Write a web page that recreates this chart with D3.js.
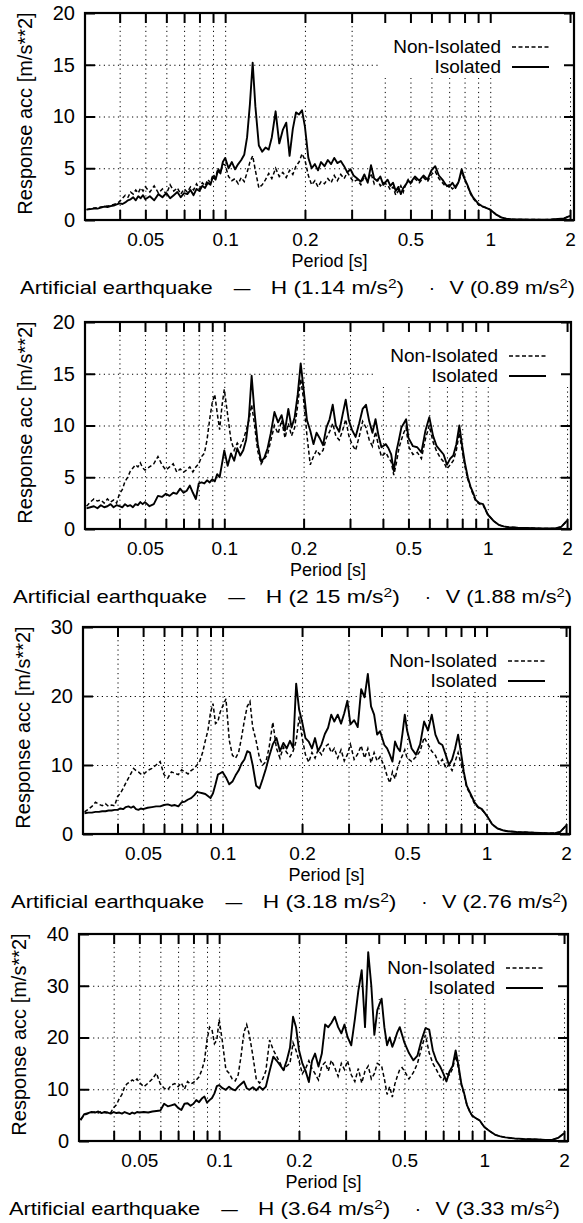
<!DOCTYPE html>
<html>
<head>
<meta charset="utf-8">
<script src="https://cdn.jsdelivr.net/npm/d3@7"></script>
<style>
  body { margin: 0; background: #fff; }
  text { font-family: 'Liberation Sans', Arial, sans-serif; fill: #000; }
</style>
</head>
<body>
<div id="chart"></div>
<script>
/* global d3 */

// periods [s] shared by every spectrum
const periods = [
  0.030, 0.031, 0.032, 0.033, 0.034, 0.035, 0.036, 0.037, 0.038, 0.039,
  0.040, 0.041, 0.042, 0.043, 0.044, 0.045, 0.046, 0.047, 0.048, 0.049,
  0.050, 0.052, 0.054, 0.056, 0.058, 0.060, 0.062, 0.064, 0.066, 0.068,
  0.070, 0.072, 0.074, 0.076, 0.078, 0.080, 0.082, 0.084, 0.086, 0.088,
  0.090, 0.092, 0.094, 0.096, 0.098,
  0.100, 0.103, 0.106, 0.109, 0.112, 0.115, 0.118, 0.121, 0.124, 0.127,
  0.130, 0.134, 0.138, 0.142, 0.146,
  0.150, 0.155, 0.160, 0.165, 0.170, 0.175, 0.180, 0.185, 0.190, 0.195,
  0.200, 0.206, 0.212, 0.218, 0.224, 0.230,
  0.237, 0.244, 0.251, 0.258, 0.265,
  0.273, 0.281, 0.289, 0.297, 0.305,
  0.315, 0.325, 0.335, 0.345, 0.355, 0.365, 0.375, 0.385, 0.395,
  0.41, 0.42, 0.43, 0.44, 0.45, 0.46, 0.47, 0.48, 0.49,
  0.50, 0.52, 0.54, 0.56, 0.58, 0.60, 0.62, 0.64, 0.66, 0.68,
  0.70, 0.72, 0.74, 0.76, 0.78, 0.80, 0.82, 0.84, 0.86, 0.88, 0.90,
  0.93, 0.96, 1.00, 1.05, 1.10, 1.15, 1.20, 1.30, 1.40, 1.50,
  1.60, 1.70, 1.80, 1.90, 2.00,
];

// response acceleration [m/s2], panel 1 (H 1.14, V 0.89)
const isolated1 = [
  1.0, 1.05, 1.1, 1.1, 1.2, 1.3, 1.25, 1.35, 1.4, 1.5, 1.6, 1.55, 1.7, 1.9, 2.0, 2.2, 1.9, 2.3, 2.1, 2.4,
  2.0, 2.3, 1.9, 2.5, 2.2, 2.6, 2.1, 2.4, 2.7, 2.2, 2.6, 2.5, 2.9, 2.4, 3.0, 2.8, 3.3, 3.1, 3.6, 3.4, 4.2, 3.9, 4.8, 4.5, 5.6,
  6.0, 5.0, 5.6, 4.9, 5.4, 5.8, 6.3, 8.0, 11.2, 15.2,
  11.0, 7.2, 6.6, 7.0, 6.8,
  8.0, 10.5, 7.4, 8.7, 9.4, 6.2, 8.8, 10.4, 10.2, 10.6,
  9.0, 6.0, 5.0, 5.4, 4.8, 5.6,
  5.2, 5.8, 5.4, 6.0, 5.5,
  5.7, 5.2, 4.6, 4.9, 4.3,
  4.0, 3.7, 4.4, 3.6, 5.3, 4.0, 3.8, 4.2, 3.4,
  3.9, 3.3, 3.6, 2.8, 3.2, 2.5, 3.1, 3.4, 3.8,
  3.6, 4.2, 3.8, 4.3, 3.9, 4.8, 5.2, 4.3, 3.9, 3.4, 3.2, 3.6, 3.1, 3.7, 4.9, 4.0, 3.4, 2.7, 2.2, 1.9, 1.6,
  1.35, 1.2, 1.0, 0.55, 0.25, 0.12, 0.07, 0.05, 0.04, 0.04, 0.03, 0.05, 0.1, 0.15, 0.4,
];
const nonIsolated1 = [
  1.0, 1.1, 1.15, 1.2, 1.25, 1.3, 1.35, 1.4, 1.5, 1.6, 1.8, 2.1, 2.4, 2.2, 2.7, 2.5, 2.9, 2.6, 3.1, 2.8,
  3.2, 2.7, 3.3, 2.6, 3.0, 2.5, 3.4, 2.8, 3.1, 2.5, 3.0, 2.7, 3.2, 2.9, 3.5, 3.0, 3.6, 3.3, 3.9, 3.6, 4.4, 4.1, 5.0, 4.6, 5.4,
  5.3, 4.2, 3.8, 4.0, 3.5, 4.1, 3.7, 4.6, 5.6, 6.2,
  4.8, 3.1, 3.4, 3.9, 4.5,
  4.0, 5.0, 4.2, 4.6, 4.1, 4.8, 4.4, 5.2, 5.6, 6.4,
  5.8, 4.3, 3.4, 3.8, 3.2, 3.7,
  3.5, 4.0, 3.6, 4.3, 3.8,
  4.4, 4.0, 4.6, 4.1, 3.7,
  3.9, 3.4, 4.2, 3.8, 4.5, 3.5, 3.9, 3.3, 3.6,
  3.4, 2.9, 3.2, 2.4, 2.8, 3.3, 2.7, 3.5, 3.9,
  3.5, 4.0, 3.6, 4.1, 3.7, 4.4, 4.7, 4.0, 3.6, 3.2, 3.4, 3.0, 3.3, 3.6, 4.7, 3.9, 3.3, 2.6, 2.1, 1.8, 1.5,
  1.3, 1.2, 1.0, 0.55, 0.25, 0.12, 0.07, 0.05, 0.04, 0.04, 0.03, 0.05, 0.1, 0.15, 0.4,
];

// panel 2 (H 2.15, V 1.88)
const isolated2 = [
  2.0, 2.1, 2.2, 2.0, 2.3, 2.1, 2.2, 2.4, 2.1, 2.3, 2.2, 2.1, 2.4, 2.2, 2.3, 2.1, 2.4, 2.3, 2.6, 2.4,
  2.6, 2.2, 2.4, 3.2, 3.1, 3.4, 3.2, 3.5, 3.4, 3.9, 3.5, 3.7, 4.2, 3.5, 2.9, 4.4, 4.5, 4.4, 4.7, 4.5, 4.8, 4.6, 5.3, 5.0, 6.3,
  7.6, 6.1, 7.3, 6.6, 7.8, 7.1, 7.6, 8.6, 10.8, 14.8,
  11.5, 8.2, 6.5, 6.9, 7.8,
  9.2, 11.3, 10.3, 11.0, 9.5, 11.6, 9.8, 10.8, 13.0, 16.0,
  13.5, 10.5, 9.5, 8.2, 9.3, 8.8,
  8.1, 9.8, 10.6, 12.0, 10.0,
  9.4, 11.0, 12.5, 10.5, 9.6,
  8.9, 10.2, 11.6, 12.0, 10.4, 9.3, 10.6, 9.0, 7.9,
  8.2, 7.8, 7.2, 5.6, 7.5, 8.6, 9.8, 10.2, 10.6,
  8.8, 8.0, 7.9, 7.4, 9.5, 10.8, 9.0, 8.0, 7.6, 7.2, 6.2, 6.8, 7.1, 8.2, 10.0, 8.0, 6.3, 5.0, 4.1, 3.5, 2.8,
  2.5, 2.4, 1.4, 0.8, 0.4, 0.25, 0.18, 0.12, 0.1, 0.08, 0.06, 0.05, 0.05, 0.2, 0.8,
];
const nonIsolated2 = [
  2.2, 2.6, 2.9, 2.7, 2.8, 2.5, 2.9, 2.6, 2.8, 2.5, 3.4, 3.8, 4.6, 5.0, 5.6, 5.9, 6.2, 6.0, 6.4, 5.9,
  5.7, 6.0, 6.3, 7.0, 6.2, 5.7, 6.0, 6.3, 5.5, 5.8, 5.5, 5.7, 6.0, 5.5, 6.0, 6.3, 7.0, 7.3, 8.6, 10.6, 12.2, 13.0, 11.2, 9.6, 11.9,
  13.5, 11.0, 8.6, 7.6, 8.3, 7.9, 8.6, 9.5, 10.5, 12.0,
  10.2, 7.5, 6.3, 6.8, 7.2,
  8.5, 10.0, 9.2, 10.5, 8.8, 10.2, 9.0, 9.8, 12.0, 14.5,
  12.5, 9.0, 6.2, 7.0, 7.6, 7.2,
  7.6, 8.8, 9.4, 10.2, 9.0,
  8.6, 9.5, 10.6, 9.0, 8.2,
  7.6, 8.9, 10.4, 9.8, 8.6, 8.0, 9.4, 8.0, 7.0,
  7.4, 6.9, 6.5, 5.2, 6.4, 7.8, 8.6, 9.3, 9.8,
  8.0, 7.2, 7.4, 6.8, 8.7, 10.0, 8.4, 7.5, 6.9, 6.5, 5.8, 6.2, 6.6, 7.6, 9.3, 7.5, 6.0, 4.8, 4.0, 3.3, 2.7,
  2.4, 2.3, 1.4, 0.8, 0.4, 0.25, 0.18, 0.12, 0.1, 0.08, 0.06, 0.05, 0.05, 0.2, 0.8,
];

// panel 3 (H 3.18, V 2.76)
const isolated3 = [
  3.0, 3.1, 3.1, 3.2, 3.2, 3.3, 3.3, 3.4, 3.4, 3.5, 3.5, 3.7, 3.6, 3.9, 4.0, 3.8, 4.0, 3.6, 3.5, 3.7,
  3.6, 3.8, 3.9, 4.0, 4.0, 4.2, 4.3, 4.1, 4.2, 4.0, 4.6, 4.7, 5.0, 5.2, 5.6, 6.1, 6.0, 5.9, 5.8, 5.5, 5.2, 5.9, 7.2, 8.6, 8.8,
  9.0, 8.2, 7.2, 7.6, 8.5, 9.2, 10.2, 10.8, 12.0, 11.8,
  10.0, 7.0, 6.6, 8.0, 9.5,
  11.2, 13.0, 13.9, 12.0, 13.2, 12.4, 13.5, 12.5, 21.8, 18.0,
  16.3, 13.9, 13.4, 12.4, 13.9, 12.0,
  13.0, 14.5, 15.4, 17.3, 16.3,
  17.3, 16.0, 17.5, 19.3, 15.9,
  16.5, 15.5, 21.0, 19.8, 23.2, 18.5, 17.3, 14.4, 14.9,
  12.9, 12.4, 11.5, 10.5, 13.4, 12.5, 12.0, 14.5, 17.3,
  15.0, 12.4, 11.5, 13.0, 16.3, 15.0, 17.3, 14.4, 13.2, 12.9, 11.5, 10.0, 10.8, 12.4, 14.4, 11.8, 9.0, 7.0, 6.2, 5.4, 4.6,
  3.9, 3.6, 2.7, 1.4, 0.8, 0.55, 0.4, 0.3, 0.25, 0.2, 0.15, 0.1, 0.1, 0.3, 1.2,
];
const nonIsolated3 = [
  3.2, 3.6, 4.0, 4.6, 4.3, 4.1, 4.4, 4.0, 4.2, 4.1, 5.4, 5.9, 6.6, 7.4, 8.1, 8.8, 9.5, 9.2, 9.0, 8.7,
  8.6, 9.2, 9.5, 10.0, 10.5, 8.6, 8.1, 9.0, 8.8, 8.6, 9.3, 9.0, 8.7, 9.2, 9.5, 10.0, 10.6, 11.8, 13.5, 15.0, 17.6, 18.9, 16.0, 16.3, 17.7,
  18.5, 19.6, 13.6, 11.4, 11.0, 11.8, 14.0, 16.5, 18.5, 19.2,
  15.5, 13.5, 11.0, 10.0, 10.5,
  12.5, 16.2, 12.4, 11.0, 12.6, 11.8, 11.2, 12.0, 13.5, 17.0,
  14.0, 11.5, 10.4, 11.8, 11.0, 12.2,
  11.5, 12.6, 13.0, 11.8, 12.4,
  11.0, 12.2, 10.6, 11.5, 13.0,
  10.8, 11.6, 12.8, 11.0, 12.4, 10.3, 11.8, 10.6, 11.2,
  9.8, 8.4, 7.4, 9.0, 8.0, 9.6, 10.6, 11.4, 12.2,
  11.0, 10.5, 11.2, 12.0, 14.0, 13.0, 12.0, 11.4, 10.2, 10.8, 9.6, 10.0, 9.2, 10.5, 11.8, 10.2, 8.6, 6.8, 6.0, 5.2, 4.4,
  3.8, 3.5, 2.7, 1.4, 0.8, 0.55, 0.4, 0.3, 0.25, 0.2, 0.15, 0.1, 0.1, 0.3, 1.2,
];

// panel 4 (H 3.64, V 3.33)
const isolated4 = [
  4.0, 5.2, 5.4, 5.6, 5.5, 5.7, 5.4, 5.6, 5.5, 5.3, 5.6, 5.4, 5.5, 5.3, 5.6, 5.4, 5.2, 5.5, 5.3, 5.6,
  5.5, 5.6, 5.5, 5.7, 5.8, 5.9, 7.2, 6.7, 6.9, 7.1, 6.4, 6.0, 7.2, 7.3, 6.8, 7.2, 7.9, 7.5, 8.2, 8.6, 7.4, 7.9, 8.3, 9.2, 10.6,
  10.8, 10.2, 9.9, 10.5, 10.0, 9.8, 10.5, 11.0, 11.5, 10.2,
  9.9, 10.4, 9.8, 10.5, 9.9,
  10.5, 13.5, 16.3, 15.5, 14.6, 13.7, 15.6, 18.0, 24.0, 22.0,
  17.6, 15.0, 13.5, 11.4, 15.5, 16.9,
  14.4, 16.9, 22.5, 22.0, 22.8,
  24.0, 22.0, 20.8, 22.5, 20.1,
  18.5, 23.5, 29.0, 33.0, 22.0, 36.5, 30.0, 20.5, 25.3,
  27.5, 22.0, 18.5, 20.0, 18.2, 19.5, 21.0, 22.0, 20.5,
  19.0, 17.0, 15.6, 16.5, 19.5, 21.8, 21.5, 17.5, 15.5, 14.5, 13.1, 11.5, 13.5, 14.5, 17.5, 14.5, 11.0, 9.2, 7.0, 5.8, 4.9,
  4.4, 4.0, 2.7, 1.9, 1.2, 0.9, 0.7, 0.5, 0.4, 0.35, 0.3, 0.2, 0.2, 0.6, 1.5,
];
const nonIsolated4 = [
  4.2, 5.0, 5.3, 5.5, 5.6, 5.4, 5.7, 5.5, 5.4, 5.5, 6.5, 7.0, 8.2, 9.0, 10.5, 11.1, 11.4, 11.8, 11.5, 12.0,
  11.3, 10.5, 11.2, 12.0, 13.1, 11.0, 10.2, 9.9, 10.8, 11.1, 10.5, 11.2, 10.0, 11.5, 11.0, 11.3, 11.8, 12.4, 13.7, 15.5, 19.5, 22.0, 21.5, 18.8, 19.5,
  23.5, 19.0, 13.8, 13.1, 12.0, 11.6, 12.8, 16.5, 21.0, 22.5,
  20.5, 16.5, 12.0, 11.2, 12.0,
  13.5, 19.5, 17.6, 16.3, 15.0, 13.7, 14.5, 15.0, 19.0, 17.5,
  15.5, 13.0, 14.0, 15.5, 14.0, 13.0,
  11.8, 14.5, 15.2, 13.5, 15.6,
  14.2, 12.5, 15.0, 13.8, 15.5,
  12.8, 11.5, 14.0, 11.2, 13.5, 14.5, 12.0, 13.0, 15.0,
  14.5, 12.0, 9.0, 10.5, 8.5, 11.0, 12.5, 13.8, 14.2,
  13.5, 12.0, 13.2, 15.0, 18.0, 20.5, 17.0, 15.0, 13.8, 12.5, 11.8, 13.0, 12.8, 14.0, 16.5, 14.0, 10.8, 9.0, 7.0, 5.8, 4.9,
  4.4, 4.0, 2.7, 1.9, 1.2, 0.9, 0.7, 0.5, 0.4, 0.35, 0.3, 0.2, 0.2, 0.6, 1.5,
];

// axis ticks and labels
const xTicks = [0.04, 0.05, 0.06, 0.07, 0.08, 0.09, 0.1, 0.2, 0.3, 0.4, 0.5, 0.6, 0.7, 0.8, 0.9, 1, 2];
const xLabels = [0.05, 0.1, 0.2, 0.5, 1, 2];
const yTicks = [
  [0, 5, 10, 15, 20],
  [0, 5, 10, 15, 20],
  [0, 10, 20, 30],
  [0, 10, 20, 30, 40],
];
const hValues = ['1.14', '2 15', '3.18', '3.64'];
const vValues = ['0.89', '1.88', '2.76', '3.33'];

const seriesIso = [isolated1, isolated2, isolated3, isolated4];
const seriesNon = [nonIsolated1, nonIsolated2, nonIsolated3, nonIsolated4];

// panel placement in the page
const layout = [
  { left: 85, top: 13, w: 489, cap: [20, 575] },
  { left: 85, top: 322, w: 486, cap: [13, 572] },
  { left: 83, top: 627, w: 487, cap: [11, 568] },
  { left: 79, top: 934, w: 489, cap: [9, 560] },
];
const plotH = 207;
const xDomain = [0.0296, 2.07];

const svg = d3.select('#chart')
  .append('svg')
  .attr('width', 583)
  .attr('height', 1223)
  .style('background', '#fff');

const drawPanel = (i) => {
  const { left, top, w, cap } = layout[i];
  const ticksY = yTicks[i];
  const yMax = ticksY[ticksY.length - 1];

  const x = d3.scaleLog().domain(xDomain).range([0, w]);
  const y = d3.scaleLinear().domain([0, yMax]).range([plotH, 0]);

  const g = svg.append('g').attr('transform', `translate(${left} ${top})`);

  // dotted grid
  g.append('g')
    .attr('class', 'grid')
    .attr('transform', `translate(0 ${plotH})`)
    .call(d3.axisBottom(x).tickValues(xTicks).tickSize(-plotH).tickFormat(''));
  g.append('g')
    .attr('class', 'grid')
    .call(d3.axisLeft(y).tickValues(ticksY.slice(1, -1)).tickSize(-w).tickFormat(''));
  g.selectAll('.grid .domain').remove();
  g.selectAll('.grid line')
    .attr('stroke', '#000')
    .attr('stroke-width', 1)
    .attr('stroke-dasharray', '1.2,3.5');

  // key area hides the grid
  g.append('rect')
    .attr('x', w - 196)
    .attr('y', 0)
    .attr('width', 196)
    .attr('height', 65)
    .attr('fill', '#fff');

  const clipId = `clip${i}`;
  g.append('clipPath').attr('id', clipId)
    .append('rect').attr('width', w).attr('height', plotH);

  const line = d3.line()
    .x((d) => x(d[0]))
    .y((d) => y(d[1]));

  const nonData = periods.map((p, k) => [p, seriesNon[i][k]]);
  const isoData = periods.map((p, k) => [p, seriesIso[i][k]]);

  g.append('path')
    .datum(nonData)
    .attr('clip-path', `url(#${clipId})`)
    .attr('fill', 'none')
    .attr('stroke', '#000')
    .attr('stroke-width', 1.5)
    .attr('stroke-dasharray', '4,2.5')
    .attr('d', line);
  g.append('path')
    .datum(isoData)
    .attr('clip-path', `url(#${clipId})`)
    .attr('fill', 'none')
    .attr('stroke', '#000')
    .attr('stroke-width', 1.9)
    .attr('stroke-linejoin', 'round')
    .attr('d', line);

  // axes with inward ticks
  const fmt = (d) => (xLabels.includes(d) ? String(d) : '');
  const bottom = g.append('g')
    .attr('transform', `translate(0 ${plotH})`)
    .call(d3.axisBottom(x).tickValues(xTicks).tickSize(-10).tickPadding(13).tickFormat(fmt));
  g.append('g')
    .call(d3.axisTop(x).tickValues(xTicks).tickSize(-10).tickFormat(''));
  const leftAxis = g.append('g')
    .call(d3.axisLeft(y).tickValues(ticksY).tickSize(-10).tickPadding(10));
  g.append('g')
    .attr('transform', `translate(${w} 0)`)
    .call(d3.axisRight(y).tickValues(ticksY).tickSize(-10).tickFormat(''));

  g.selectAll('.domain').remove();
  g.selectAll('.tick line').filter(function () { return !this.closest('.grid'); })
    .attr('stroke', '#000')
    .attr('stroke-width', 2);
  bottom.selectAll('text').style('font-size', '19px').attr('fill', '#000');
  leftAxis.selectAll('text').style('font-size', '20px').attr('fill', '#000');

  g.append('rect')
    .attr('width', w)
    .attr('height', plotH)
    .attr('fill', 'none')
    .attr('stroke', '#000')
    .attr('stroke-width', 2.2);

  // key
  const keyX = w - 73;
  [['Non-Isolated', '4,2.5', 40], ['Isolated', null, 60]].forEach(([label, dash, ky]) => {
    g.append('text')
      .attr('x', keyX)
      .attr('y', ky)
      .attr('text-anchor', 'end')
      .style('font-size', '19px')
      .text(label);
    g.append('line')
      .attr('x1', w - 62)
      .attr('x2', w - 25)
      .attr('y1', ky - 6)
      .attr('y2', ky - 6)
      .attr('stroke', '#000')
      .attr('stroke-width', dash ? 1.5 : 1.9)
      .attr('stroke-dasharray', dash);
  });

  // axis titles
  g.append('text')
    .attr('transform', `translate(${-60} ${plotH / 2 - 3})rotate(-90)`)
    .attr('text-anchor', 'middle')
    .attr('dy', '0.35em')
    .style('font-size', '20px')
    .text('Response acc [m/s**2]');
  g.append('text')
    .attr('x', w / 2)
    .attr('y', plotH + 47)
    .attr('text-anchor', 'middle')
    .style('font-size', '18px')
    .text('Period [s]');

  // caption below the panel
  const capY = top + plotH + 74;
  const span = cap[1] - cap[0];
  const at = (f) => cap[0] + f * span;
  const capText = (x0, len, parts) => {
    const t = svg.append('text')
      .attr('x', x0)
      .attr('y', capY)
      .style('font-size', '19px');
    parts.forEach(([s, sup]) => {
      t.append('tspan')
        .attr('baseline-shift', sup ? '45%' : null)
        .style('font-size', sup ? '13px' : null)
        .text(s);
    });
    if (len) t.attr('textLength', len).attr('lengthAdjust', 'spacingAndGlyphs');
    return t;
  };
  capText(at(0), at(0.347) - at(0), [['Artificial earthquake']]);
  capText(at(0.385), at(0.415) - at(0.385), [['\u2014']]);
  capText(at(0.452), at(0.692) - at(0.452), [[`H (${hValues[i]} m/s`], ['2', true], [')']]);
  capText(at(0.742) - 3, null, [['\u00b7']]);
  capText(at(0.774), at(1) - at(0.774), [[`V (${vValues[i]} m/s`], ['2', true], [')']]);
};

layout.forEach((d, i) => drawPanel(i));
</script>
</body>
</html>
